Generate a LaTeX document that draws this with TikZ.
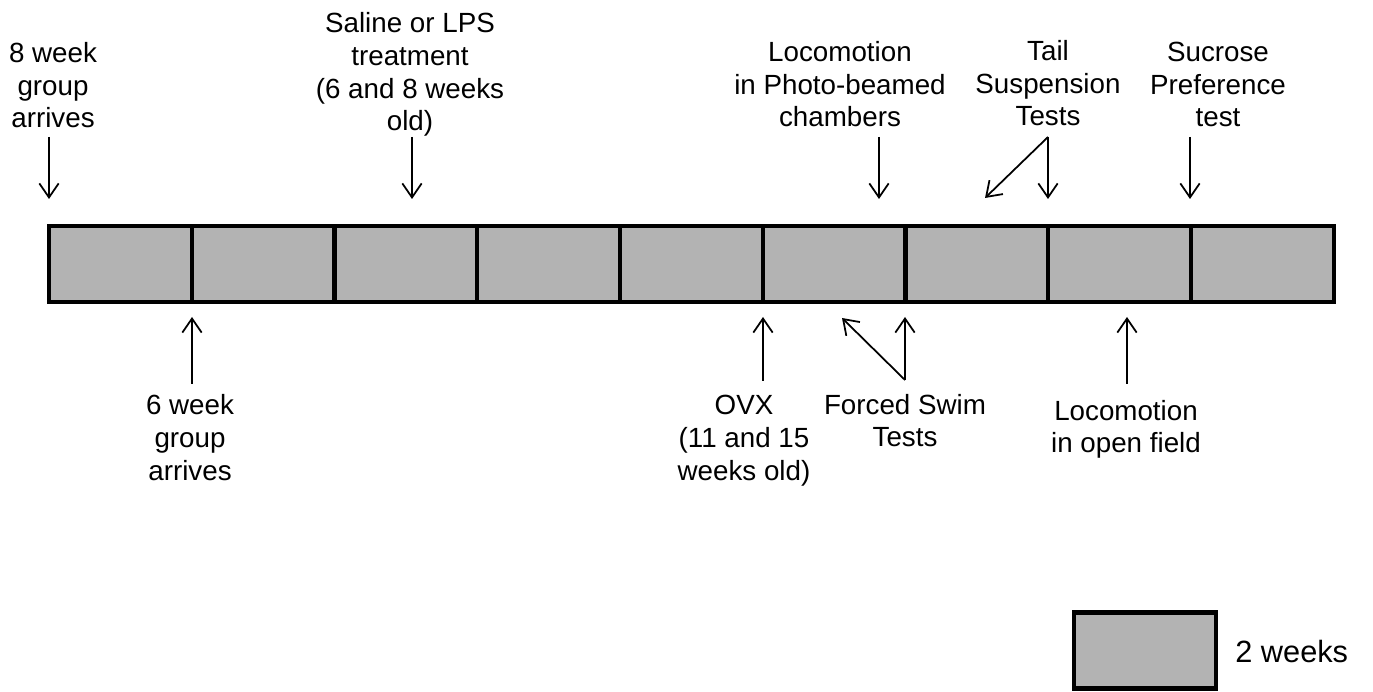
\documentclass[tikz,border=0pt]{standalone}
\usepackage{fontspec}
\setmainfont{Liberation Sans}
\usetikzlibrary{arrows.meta,calc}
\definecolor{barfill}{RGB}{179,179,179}

\begin{document}
\begin{tikzpicture}[x=0.02cm,y=-0.02cm,
    cell/.style={draw,line width=2.3pt,fill=barfill,
      minimum width=2.855cm,minimum height=1.52cm,inner sep=0pt},
    lbl/.style={align=center,inner sep=0pt,anchor=base,
      font=\fontsize{15.8}{18.7}\selectfont},
    tip/.style={-{Straight Barb[length=8pt,width=11pt]},line width=1pt}]

  % 画像サイズに合わせたバウンディングボックス
  \useasboundingbox (0,0) rectangle (1373,692);

  % 座標確認用グリッド
  %\draw[step=100,lightgray] (0,0) grid (1373,692);

  % 2週間ごとのマス
  \foreach \i in {1,...,9}
    \node[cell] (c\i) at ({49+142.75*(\i-0.5)},264) {};

  % 上側のラベル（最終行のベースラインで配置）
  \node[lbl] (arr8) at (53,128) {8 week\\group\\arrives};
  \node[lbl] (treat) at (410,131) {Saline or LPS\\treatment\\(6 and 8 weeks\\old)};
  \node[lbl] (photo) at (840,127) {Locomotion\\in Photo-beamed\\chambers};
  \node[lbl] (tail) at (1048,126) {Tail\\Suspension\\Tests};
  \node[lbl] (sucr) at (1218,127) {Sucrose\\Preference\\test};

  % 下側のラベル
  \node[lbl] (arr6) at (190,480) {6 week\\group\\arrives};
  \node[lbl] (ovx) at (744,480) {OVX\\(11 and 15\\weeks old)};
  \node[lbl] (swim) at (905,447) {Forced Swim\\Tests};
  \node[lbl] (field) at (1126,453) {Locomotion\\in open field};

  % 矢印の端点
  \coordinate (arr8s) at (49,137);   \coordinate (arr8e) at (49,199);
  \coordinate (treats) at (412,137); \coordinate (treate) at (412,199);
  \coordinate (photos) at (879,137); \coordinate (photoe) at (879,199);
  \coordinate (tails) at (1048,137); \coordinate (taile) at (1048,199);
  \coordinate (taild) at (985,198);
  \coordinate (sucrs) at (1190,137); \coordinate (sucre) at (1190,199);
  \coordinate (arr6s) at (192,384);  \coordinate (arr6e) at (192,317);
  \coordinate (ovxs) at (763,381);   \coordinate (ovxe) at (763,317);
  \coordinate (swims) at (905,380);  \coordinate (swime) at (905,317);
  \coordinate (swimd) at (842,318);
  \coordinate (fields) at (1127,384); \coordinate (fielde) at (1127,317);

  \draw[tip] (arr8s) -- (arr8e);
  \draw[tip] (treats) -- (treate);
  \draw[tip] (photos) -- (photoe);
  \draw[tip] (tails) -- (taile);
  \draw[tip] (tails) -- (taild);
  \draw[tip] (sucrs) -- (sucre);
  \draw[tip] (arr6s) -- (arr6e);
  \draw[tip] (ovxs) -- (ovxe);
  \draw[tip] (swims) -- (swime);
  \draw[tip] (swims) -- (swimd);
  \draw[tip] (fields) -- (fielde);

  % 凡例
  \node[cell] (key) at (1145,650.5) {};
  \node[lbl,anchor=base west,font=\fontsize{17.5}{20}\selectfont] (keytext)
    at (1235,662) {2 weeks};
\end{tikzpicture}
\end{document}
